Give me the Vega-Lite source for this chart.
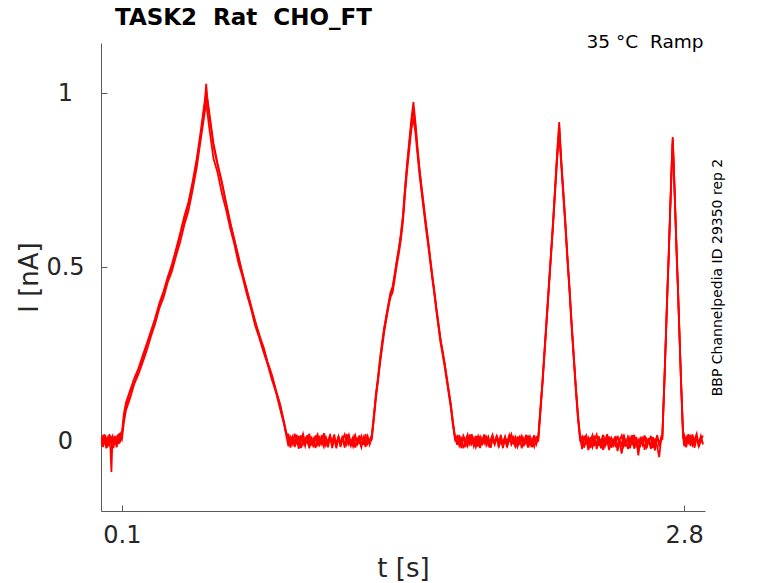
{
  "$schema": "https://vega.github.io/schema/vega-lite/v6.json",
  "width": 604,
  "height": 468,
  "autosize": "none",
  "padding": {"left": 101, "top": 43, "right": 73, "bottom": 72},
  "background": "white",
  "title": {"text": "TASK2\u00a0 Rat\u00a0 CHO_FT", "anchor": "start", "frame": "group", "dx": 14, "dy": 32, "offset": 17, "baseline": "alphabetic", "font": "DejaVu Sans", "fontSize": 23, "fontWeight": "bold", "color": "black"},
  "config": {
    "view": {"stroke": null},
    "font": "DejaVu Sans",
    "axis": {"grid": false, "domainColor": "#5a5a5a", "tickColor": "#5a5a5a", "labelColor": "#262626", "titleColor": "#262626", "labelFont": "DejaVu Sans", "titleFont": "DejaVu Sans", "titleFontWeight": "normal", "labelFlush": false}
  },
  "data": {"values": [
    {"t":0,"a":0.005,"b":-0.008,"c":0.012},
    {"t":0.005,"a":-0.012,"b":0.014,"c":-0.004},
    {"t":0.01,"a":0.018,"b":-0.002,"c":-0.016},
    {"t":0.015,"a":-0.003,"b":0.02,"c":0.007},
    {"t":0.02,"a":0.009,"b":-0.011,"c":0.019},
    {"t":0.025,"a":-0.02,"b":0.006,"c":-0.009},
    {"t":0.03,"a":0.014,"b":-0.018,"c":0.003},
    {"t":0.035,"a":0.002,"b":0.01,"c":-0.014},
    {"t":0.04,"a":-0.008,"b":0.003,"c":0.021},
    {"t":0.045,"a":-0.015,"b":0.017,"c":-0.006},
    {"t":0.05,"a":-0.088,"b":-0.009,"c":0.009},
    {"t":0.055,"a":0.011,"b":-0.021,"c":0.015},
    {"t":0.06,"a":-0.006,"b":0.008,"c":-0.019},
    {"t":0.065,"a":0.016,"b":-0.004,"c":0.002},
    {"t":0.07,"a":-0.01,"b":0.015,"c":0.011},
    {"t":0.075,"a":0.004,"b":-0.013,"c":-0.017},
    {"t":0.08,"a":0.019,"b":0.007,"c":-0.002},
    {"t":0.085,"a":-0.007,"b":0.021,"c":0.013},
    {"t":0.09,"a":0.012,"b":-0.005,"c":0.024},
    {"t":0.095,"a":0.022,"b":0.01,"c":0.006},
    {"t":0.1,"a":0.015,"b":0.005,"c":0.02},
    {"t":0.11,"a":0.07,"b":0.055,"c":0.08},
    {"t":0.12,"a":0.1,"b":0.09,"c":0.112},
    {"t":0.14,"a":0.142,"b":0.125,"c":0.147},
    {"t":0.16,"a":0.168,"b":0.166,"c":0.182},
    {"t":0.18,"a":0.207,"b":0.193,"c":0.21},
    {"t":0.2,"a":0.233,"b":0.227,"c":0.247},
    {"t":0.22,"a":0.277,"b":0.262,"c":0.281},
    {"t":0.24,"a":0.308,"b":0.302,"c":0.318},
    {"t":0.26,"a":0.352,"b":0.338,"c":0.354},
    {"t":0.28,"a":0.388,"b":0.382,"c":0.397},
    {"t":0.3,"a":0.427,"b":0.413,"c":0.431},
    {"t":0.32,"a":0.463,"b":0.457,"c":0.472},
    {"t":0.34,"a":0.502,"b":0.488,"c":0.508},
    {"t":0.36,"a":0.538,"b":0.532,"c":0.552},
    {"t":0.38,"a":0.592,"b":0.573,"c":0.598},
    {"t":0.4,"a":0.633,"b":0.622,"c":0.647},
    {"t":0.42,"a":0.682,"b":0.663,"c":0.688},
    {"t":0.44,"a":0.733,"b":0.722,"c":0.747},
    {"t":0.46,"a":0.807,"b":0.788,"c":0.813},
    {"t":0.48,"a":0.883,"b":0.872,"c":0.897},
    {"t":0.5,"a":0.977,"b":0.953,"c":0.987},
    {"t":0.505,"a":1.005,"b":0.985,"c":1.028},
    {"t":0.51,"a":0.985,"b":0.95,"c":0.99},
    {"t":0.52,"a":0.945,"b":0.9,"c":0.935},
    {"t":0.54,"a":0.857,"b":0.813,"c":0.847},
    {"t":0.56,"a":0.798,"b":0.772,"c":0.793},
    {"t":0.58,"a":0.747,"b":0.713,"c":0.742},
    {"t":0.6,"a":0.688,"b":0.667,"c":0.683},
    {"t":0.62,"a":0.632,"b":0.613,"c":0.628},
    {"t":0.64,"a":0.578,"b":0.567,"c":0.582},
    {"t":0.66,"a":0.532,"b":0.513,"c":0.528},
    {"t":0.68,"a":0.478,"b":0.472,"c":0.482},
    {"t":0.7,"a":0.437,"b":0.423,"c":0.433},
    {"t":0.72,"a":0.388,"b":0.382,"c":0.392},
    {"t":0.74,"a":0.347,"b":0.333,"c":0.343},
    {"t":0.76,"a":0.303,"b":0.297,"c":0.307},
    {"t":0.78,"a":0.272,"b":0.258,"c":0.267},
    {"t":0.8,"a":0.228,"b":0.222,"c":0.223},
    {"t":0.82,"a":0.192,"b":0.178,"c":0.187},
    {"t":0.84,"a":0.148,"b":0.142,"c":0.143},
    {"t":0.86,"a":0.107,"b":0.093,"c":0.102},
    {"t":0.88,"a":0.053,"b":0.047,"c":0.048},
    {"t":0.89,"a":0.025,"b":0.015,"c":0.02},
    {"t":0.9,"a":0.008,"b":-0.014,"c":0.02},
    {"t":0.91,"a":-0.018,"b":0.011,"c":-0.005},
    {"t":0.92,"a":0.015,"b":-0.007,"c":0.013},
    {"t":0.93,"a":-0.006,"b":0.022,"c":-0.016},
    {"t":0.94,"a":0.019,"b":-0.002,"c":0.004},
    {"t":0.95,"a":-0.012,"b":0.016,"c":-0.021},
    {"t":0.96,"a":0.003,"b":-0.019,"c":0.017},
    {"t":0.97,"a":0.021,"b":0.005,"c":-0.008},
    {"t":0.98,"a":-0.009,"b":-0.013,"c":0.01},
    {"t":0.99,"a":0.013,"b":0.018,"c":-0.003},
    {"t":1,"a":-0.02,"b":-0.006,"c":0.022},
    {"t":1.01,"a":0.007,"b":0.014,"c":-0.012},
    {"t":1.02,"a":-0.003,"b":-0.017,"c":0.006},
    {"t":1.03,"a":0.017,"b":0.009,"c":-0.019},
    {"t":1.04,"a":-0.014,"b":0.02,"c":0.011},
    {"t":1.05,"a":0.01,"b":-0.01,"c":-0.004},
    {"t":1.06,"a":-0.007,"b":0.003,"c":0.018},
    {"t":1.07,"a":0.024,"b":-0.015,"c":-0.009},
    {"t":1.08,"a":-0.011,"b":0.012,"c":0.007},
    {"t":1.09,"a":0.002,"b":-0.004,"c":-0.017},
    {"t":1.1,"a":0.016,"b":0.019,"c":0.014},
    {"t":1.11,"a":-0.019,"b":-0.011,"c":-0.002},
    {"t":1.12,"a":0.009,"b":0.006,"c":0.02},
    {"t":1.13,"a":-0.004,"b":-0.02,"c":-0.013},
    {"t":1.14,"a":0.014,"b":0.015,"c":0.005},
    {"t":1.15,"a":-0.016,"b":-0.003,"c":-0.007},
    {"t":1.16,"a":0.006,"b":0.01,"c":0.016},
    {"t":1.17,"a":0.02,"b":-0.018,"c":-0.011},
    {"t":1.18,"a":-0.008,"b":0.021,"c":0.003},
    {"t":1.19,"a":0.011,"b":-0.008,"c":0.019},
    {"t":1.2,"a":-0.013,"b":0.004,"c":-0.006},
    {"t":1.21,"a":0.004,"b":-0.014,"c":0.012},
    {"t":1.22,"a":0.018,"b":0.013,"c":-0.018},
    {"t":1.23,"a":-0.01,"b":-0.005,"c":0.008},
    {"t":1.24,"a":0.001,"b":0.017,"c":-0.002},
    {"t":1.25,"a":-0.017,"b":-0.009,"c":0.015},
    {"t":1.26,"a":0.012,"b":0.007,"c":-0.01},
    {"t":1.27,"a":-0.005,"b":-0.016,"c":0.021},
    {"t":1.28,"a":0.015,"b":0.011,"c":-0.007},
    {"t":1.29,"a":-0.009,"b":-0.001,"c":0.004},
    {"t":1.3,"a":0.012,"b":0.005,"c":0.018},
    {"t":1.31,"a":0.075,"b":0.062,"c":0.07},
    {"t":1.32,"a":0.13,"b":0.125,"c":0.138},
    {"t":1.33,"a":0.185,"b":0.172,"c":0.18},
    {"t":1.34,"a":0.232,"b":0.225,"c":0.24},
    {"t":1.35,"a":0.282,"b":0.27,"c":0.285},
    {"t":1.36,"a":0.325,"b":0.315,"c":0.328},
    {"t":1.37,"a":0.358,"b":0.35,"c":0.362},
    {"t":1.38,"a":0.395,"b":0.385,"c":0.392},
    {"t":1.39,"a":0.425,"b":0.415,"c":0.428},
    {"t":1.4,"a":0.438,"b":0.428,"c":0.445},
    {"t":1.41,"a":0.478,"b":0.465,"c":0.48},
    {"t":1.42,"a":0.515,"b":0.505,"c":0.52},
    {"t":1.43,"a":0.552,"b":0.54,"c":0.555},
    {"t":1.44,"a":0.592,"b":0.58,"c":0.598},
    {"t":1.45,"a":0.648,"b":0.632,"c":0.65},
    {"t":1.46,"a":0.725,"b":0.712,"c":0.73},
    {"t":1.47,"a":0.795,"b":0.78,"c":0.8},
    {"t":1.48,"a":0.855,"b":0.838,"c":0.862},
    {"t":1.49,"a":0.912,"b":0.895,"c":0.925},
    {"t":1.5,"a":0.955,"b":0.93,"c":0.975},
    {"t":1.51,"a":0.905,"b":0.885,"c":0.915},
    {"t":1.52,"a":0.835,"b":0.822,"c":0.842},
    {"t":1.53,"a":0.775,"b":0.762,"c":0.78},
    {"t":1.54,"a":0.722,"b":0.712,"c":0.728},
    {"t":1.55,"a":0.672,"b":0.662,"c":0.678},
    {"t":1.56,"a":0.622,"b":0.612,"c":0.628},
    {"t":1.57,"a":0.578,"b":0.568,"c":0.58},
    {"t":1.58,"a":0.528,"b":0.518,"c":0.53},
    {"t":1.59,"a":0.478,"b":0.47,"c":0.48},
    {"t":1.6,"a":0.432,"b":0.425,"c":0.435},
    {"t":1.61,"a":0.382,"b":0.375,"c":0.385},
    {"t":1.62,"a":0.338,"b":0.33,"c":0.34},
    {"t":1.63,"a":0.292,"b":0.285,"c":0.295},
    {"t":1.64,"a":0.258,"b":0.25,"c":0.26},
    {"t":1.65,"a":0.222,"b":0.215,"c":0.225},
    {"t":1.66,"a":0.182,"b":0.175,"c":0.185},
    {"t":1.67,"a":0.142,"b":0.135,"c":0.145},
    {"t":1.68,"a":0.102,"b":0.095,"c":0.105},
    {"t":1.69,"a":0.052,"b":0.045,"c":0.055},
    {"t":1.7,"a":0.012,"b":0.005,"c":0.01},
    {"t":1.71,"a":-0.01,"b":0.015,"c":-0.004},
    {"t":1.72,"a":0.018,"b":-0.012,"c":0.011},
    {"t":1.73,"a":-0.003,"b":0.007,"c":-0.019},
    {"t":1.74,"a":0.012,"b":-0.02,"c":0.016},
    {"t":1.75,"a":-0.016,"b":0.003,"c":0.002},
    {"t":1.76,"a":0.006,"b":0.019,"c":-0.013},
    {"t":1.77,"a":-0.008,"b":-0.009,"c":0.02},
    {"t":1.78,"a":0.021,"b":0.012,"c":-0.007},
    {"t":1.79,"a":-0.014,"b":-0.003,"c":0.009},
    {"t":1.8,"a":0.002,"b":0.016,"c":-0.016},
    {"t":1.81,"a":0.015,"b":-0.015,"c":0.005},
    {"t":1.82,"a":-0.019,"b":0.008,"c":0.014},
    {"t":1.83,"a":0.009,"b":-0.006,"c":-0.01},
    {"t":1.84,"a":-0.005,"b":0.02,"c":0.018},
    {"t":1.85,"a":0.017,"b":-0.011,"c":-0.003},
    {"t":1.86,"a":-0.011,"b":0.002,"c":0.012},
    {"t":1.87,"a":0.004,"b":-0.018,"c":-0.018},
    {"t":1.88,"a":0.019,"b":0.013,"c":0.007},
    {"t":1.89,"a":-0.007,"b":-0.004,"c":-0.009},
    {"t":1.9,"a":0.01,"b":0.017,"c":0.015},
    {"t":1.91,"a":-0.017,"b":-0.013,"c":-0.001},
    {"t":1.92,"a":0.007,"b":0.005,"c":0.019},
    {"t":1.93,"a":-0.002,"b":-0.019,"c":-0.012},
    {"t":1.94,"a":0.014,"b":0.011,"c":0.004},
    {"t":1.95,"a":-0.013,"b":-0.001,"c":-0.017},
    {"t":1.96,"a":0.005,"b":0.018,"c":0.01},
    {"t":1.97,"a":0.02,"b":-0.008,"c":-0.006},
    {"t":1.98,"a":-0.009,"b":0.009,"c":0.016},
    {"t":1.99,"a":0.011,"b":-0.016,"c":-0.014},
    {"t":2,"a":-0.015,"b":0.014,"c":0.003},
    {"t":2.01,"a":0.003,"b":-0.005,"c":0.013},
    {"t":2.02,"a":0.016,"b":0.006,"c":-0.02},
    {"t":2.03,"a":-0.006,"b":-0.014,"c":0.008},
    {"t":2.04,"a":0.008,"b":0.019,"c":-0.005},
    {"t":2.05,"a":-0.018,"b":-0.007,"c":0.017},
    {"t":2.06,"a":0.013,"b":0.01,"c":-0.011},
    {"t":2.07,"a":-0.004,"b":-0.017,"c":0.006},
    {"t":2.08,"a":0.018,"b":0.004,"c":-0.015},
    {"t":2.09,"a":-0.008,"b":0.012,"c":0.009},
    {"t":2.1,"a":0.012,"b":0.004,"c":0.018},
    {"t":2.11,"a":0.092,"b":0.085,"c":0.098},
    {"t":2.12,"a":0.172,"b":0.165,"c":0.178},
    {"t":2.13,"a":0.262,"b":0.255,"c":0.268},
    {"t":2.14,"a":0.352,"b":0.345,"c":0.358},
    {"t":2.15,"a":0.442,"b":0.435,"c":0.448},
    {"t":2.16,"a":0.532,"b":0.525,"c":0.538},
    {"t":2.17,"a":0.622,"b":0.615,"c":0.628},
    {"t":2.18,"a":0.722,"b":0.712,"c":0.728},
    {"t":2.19,"a":0.822,"b":0.808,"c":0.83},
    {"t":2.2,"a":0.905,"b":0.885,"c":0.918},
    {"t":2.21,"a":0.802,"b":0.792,"c":0.808},
    {"t":2.22,"a":0.712,"b":0.702,"c":0.718},
    {"t":2.23,"a":0.622,"b":0.612,"c":0.628},
    {"t":2.24,"a":0.522,"b":0.515,"c":0.528},
    {"t":2.25,"a":0.432,"b":0.425,"c":0.438},
    {"t":2.26,"a":0.332,"b":0.325,"c":0.338},
    {"t":2.27,"a":0.242,"b":0.235,"c":0.248},
    {"t":2.28,"a":0.152,"b":0.145,"c":0.158},
    {"t":2.29,"a":0.072,"b":0.065,"c":0.078},
    {"t":2.3,"a":0.012,"b":0.005,"c":0.015},
    {"t":2.31,"a":-0.012,"b":0.014,"c":-0.022},
    {"t":2.32,"a":0.016,"b":-0.018,"c":0.005},
    {"t":2.33,"a":-0.004,"b":0.008,"c":0.017},
    {"t":2.34,"a":0.01,"b":-0.025,"c":-0.009},
    {"t":2.35,"a":-0.019,"b":0.003,"c":0.012},
    {"t":2.36,"a":0.005,"b":0.018,"c":-0.016},
    {"t":2.37,"a":0.014,"b":-0.01,"c":0.002},
    {"t":2.38,"a":-0.022,"b":-0.004,"c":0.019},
    {"t":2.39,"a":0.008,"b":0.015,"c":-0.013},
    {"t":2.4,"a":-0.006,"b":-0.02,"c":0.007},
    {"t":2.41,"a":0.019,"b":0.006,"c":-0.024},
    {"t":2.42,"a":-0.014,"b":-0.012,"c":0.01},
    {"t":2.43,"a":0.002,"b":0.021,"c":-0.005},
    {"t":2.44,"a":-0.025,"b":-0.007,"c":0.014},
    {"t":2.45,"a":0.011,"b":0.009,"c":-0.018},
    {"t":2.46,"a":-0.008,"b":-0.016,"c":0.004},
    {"t":2.47,"a":0.015,"b":0.012,"c":-0.011},
    {"t":2.48,"a":-0.017,"b":-0.028,"c":0.016},
    {"t":2.49,"a":0.004,"b":0.005,"c":-0.007},
    {"t":2.5,"a":-0.011,"b":0.017,"c":-0.035},
    {"t":2.51,"a":0.02,"b":-0.014,"c":0.008},
    {"t":2.52,"a":-0.005,"b":0.002,"c":-0.015},
    {"t":2.53,"a":0.009,"b":-0.022,"c":0.013},
    {"t":2.54,"a":-0.02,"b":0.01,"c":-0.003},
    {"t":2.55,"a":0.006,"b":-0.006,"c":0.018},
    {"t":2.56,"a":-0.013,"b":0.019,"c":-0.021},
    {"t":2.57,"a":0.013,"b":-0.017,"c":0.006},
    {"t":2.58,"a":-0.026,"b":0.004,"c":-0.04},
    {"t":2.59,"a":0.007,"b":-0.011,"c":0.011},
    {"t":2.6,"a":-0.009,"b":0.014,"c":-0.008},
    {"t":2.61,"a":0.017,"b":-0.024,"c":0.015},
    {"t":2.62,"a":-0.015,"b":0.007,"c":-0.019},
    {"t":2.63,"a":0.003,"b":-0.003,"c":0.009},
    {"t":2.64,"a":-0.021,"b":0.016,"c":-0.012},
    {"t":2.65,"a":0.012,"b":-0.019,"c":0.003},
    {"t":2.66,"a":-0.007,"b":0.008,"c":-0.026},
    {"t":2.67,"a":0.018,"b":-0.013,"c":0.014},
    {"t":2.68,"a":-0.012,"b":-0.045,"c":-0.006},
    {"t":2.69,"a":0.005,"b":0.01,"c":0.012},
    {"t":2.695,"a":0.01,"b":0.004,"c":0.016},
    {"t":2.7,"a":0.092,"b":0.085,"c":0.098},
    {"t":2.705,"a":0.172,"b":0.165,"c":0.178},
    {"t":2.71,"a":0.262,"b":0.255,"c":0.268},
    {"t":2.715,"a":0.352,"b":0.345,"c":0.358},
    {"t":2.72,"a":0.442,"b":0.435,"c":0.448},
    {"t":2.725,"a":0.522,"b":0.515,"c":0.528},
    {"t":2.73,"a":0.612,"b":0.605,"c":0.618},
    {"t":2.735,"a":0.702,"b":0.695,"c":0.708},
    {"t":2.74,"a":0.792,"b":0.782,"c":0.798},
    {"t":2.745,"a":0.87,"b":0.855,"c":0.875},
    {"t":2.75,"a":0.792,"b":0.785,"c":0.798},
    {"t":2.755,"a":0.702,"b":0.695,"c":0.708},
    {"t":2.76,"a":0.612,"b":0.605,"c":0.618},
    {"t":2.765,"a":0.522,"b":0.515,"c":0.528},
    {"t":2.77,"a":0.442,"b":0.435,"c":0.448},
    {"t":2.775,"a":0.352,"b":0.345,"c":0.358},
    {"t":2.78,"a":0.262,"b":0.255,"c":0.268},
    {"t":2.785,"a":0.172,"b":0.165,"c":0.178},
    {"t":2.79,"a":0.092,"b":0.085,"c":0.098},
    {"t":2.795,"a":0.015,"b":0.008,"c":0.02},
    {"t":2.8,"a":-0.014,"b":0.018,"c":0.006},
    {"t":2.81,"a":0.012,"b":-0.006,"c":-0.017},
    {"t":2.82,"a":-0.003,"b":0.021,"c":0.014},
    {"t":2.83,"a":0.019,"b":-0.013,"c":-0.005},
    {"t":2.84,"a":-0.01,"b":0.007,"c":0.02},
    {"t":2.85,"a":0.006,"b":-0.018,"c":-0.009},
    {"t":2.86,"a":0.022,"b":0.011,"c":0.012},
    {"t":2.87,"a":-0.016,"b":-0.004,"c":-0.014},
    {"t":2.88,"a":0.008,"b":0.016,"c":0.003},
    {"t":2.89,"a":-0.005,"b":-0.009,"c":0.017}
  ]},
  "transform": [{"fold": ["a", "b", "c"], "as": ["rep", "i"]}],
  "layer": [
    {
      "mark": {"type": "line", "color": "#ff0000", "strokeWidth": 1.8, "clip": true},
      "encoding": {
        "x": {"field": "t", "type": "quantitative", "scale": {"domain": [0, 2.9], "nice": false, "zero": false},
          "axis": {"orient": "bottom", "values": [0.1, 2.8], "format": ".1f", "title": "t [s]", "tickSize": -6, "labelPadding": 18, "labelFontSize": 24, "titleFontSize": 26, "titleBaseline": "middle", "titleY": 57}},
        "y": {"field": "i", "type": "quantitative", "scale": {"domain": [-0.2, 1.145], "nice": false, "zero": false},
          "axis": {"orient": "left", "values": [0, 0.5, 1], "format": ".1~f", "title": "I [nA]", "tickSize": -6, "labelPadding": 42, "labelAlign": "center", "labelBaseline": "middle", "labelFontSize": 24, "titleFontSize": 26, "titleAngle": 270, "titleAlign": "center", "titleBaseline": "middle", "titleX": -72, "titleY": 234}},
        "detail": {"field": "rep", "type": "nominal"}
      }
    },
    {
      "transform": [{"filter": "datum.t == 0"}],
      "mark": {"type": "point", "opacity": 0},
      "encoding": {
        "x": {"field": "t", "type": "quantitative",
          "axis": {"orient": "top", "domain": false, "ticks": false, "labels": false, "title": "35 °C\u00a0 Ramp", "titleFontSize": 18.5, "titleColor": "black", "titleAlign": "right", "titleAnchor": "end", "titleBaseline": "alphabetic", "titleX": 602, "titleY": 4.5}},
        "y": {"field": "i", "type": "quantitative",
          "axis": {"orient": "right", "domain": false, "ticks": false, "labels": false, "title": "BBP Channelpedia ID 29350 rep 2", "titleFontSize": 14, "titleColor": "black", "titleAngle": 270, "titleAlign": "center", "titleBaseline": "middle", "titleX": 12, "titleY": 234}}
      }
    }
  ],
  "resolve": {"axis": {"x": "independent", "y": "independent"}}
}
